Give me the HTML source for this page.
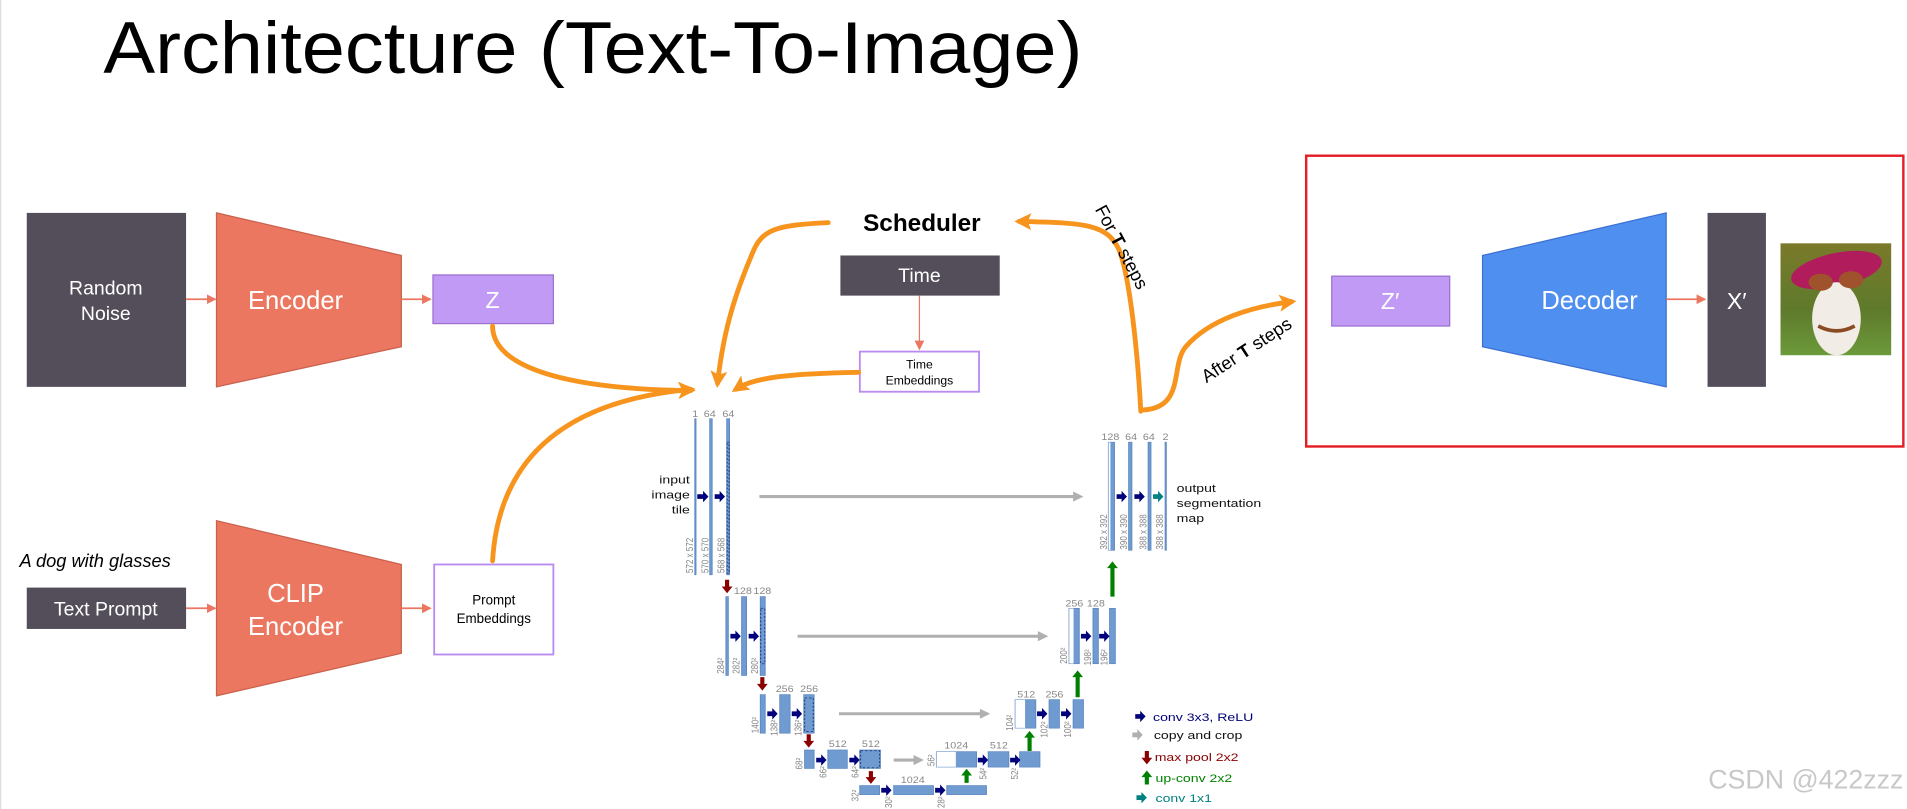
<!DOCTYPE html>
<html><head><meta charset="utf-8"><style>
html,body{margin:0;padding:0;background:#fff;width:1907px;height:809px;overflow:hidden}
svg{display:block}
</style></head><body>
<svg width="1907" height="809" viewBox="0 0 1568 665" preserveAspectRatio="none" xmlns="http://www.w3.org/2000/svg" font-family="Liberation Sans, sans-serif">
<defs>
<marker id="sa" markerWidth="8" markerHeight="8" refX="7" refY="4" orient="auto" markerUnits="userSpaceOnUse"><path d="M0,0L8,4L0,8z" fill="#ec7760"/></marker>
<marker id="oa" markerWidth="16" markerHeight="14" refX="10" refY="7" orient="auto" markerUnits="userSpaceOnUse"><path d="M0,0L14,7L0,14L3,7z" fill="#f7941d"/></marker>
<linearGradient id="bg" x1="0" y1="0" x2="0" y2="1"><stop offset="0" stop-color="#7a7a2a"/><stop offset="0.6" stop-color="#5f7a2c"/><stop offset="1" stop-color="#6b9a3a"/></linearGradient>
</defs>
<line x1="0.5" y1="0" x2="0.5" y2="665" stroke="#ddd"/>
<text x="85" y="60" font-size="60" textLength="805" lengthAdjust="spacingAndGlyphs">Architecture (Text-To-Image)</text>

<rect x="22" y="175" width="131" height="143" fill="#544e5a"/>
<text x="87" y="242" font-size="16" fill="#fff" text-anchor="middle">Random</text>
<text x="87" y="263" font-size="16" fill="#fff" text-anchor="middle">Noise</text>
<line x1="153" y1="246" x2="177" y2="246" stroke="#ec7760" stroke-width="1.5" marker-end="url(#sa)"/>
<polygon points="178,175 330,210 330,285 178,318" fill="#ec7760" stroke="#c8604c"/>
<text x="243" y="254" font-size="21" fill="#fff" text-anchor="middle">Encoder</text>
<line x1="330" y1="246" x2="354" y2="246" stroke="#ec7760" stroke-width="1.5" marker-end="url(#sa)"/>
<rect x="356" y="226" width="99" height="40" fill="#c09af5" stroke="#9a6fd0"/>
<text x="405" y="253" font-size="19" fill="#fff" text-anchor="middle">Z</text>

<text x="16" y="466" font-size="15" font-style="italic">A dog with glasses</text>
<rect x="22" y="483" width="131" height="34" fill="#544e5a"/>
<text x="87" y="506" font-size="16" fill="#fff" text-anchor="middle">Text Prompt</text>
<line x1="153" y1="500" x2="177" y2="500" stroke="#ec7760" stroke-width="1.5" marker-end="url(#sa)"/>
<polygon points="178,428 330,464 330,537 178,572" fill="#ec7760" stroke="#c8604c"/>
<text x="243" y="495" font-size="21" fill="#fff" text-anchor="middle">CLIP</text>
<text x="243" y="522" font-size="21" fill="#fff" text-anchor="middle">Encoder</text>
<line x1="330" y1="500" x2="354" y2="500" stroke="#ec7760" stroke-width="1.5" marker-end="url(#sa)"/>
<rect x="357" y="464" width="98" height="74" fill="#fff" stroke="#b98af0" stroke-width="1.5"/>
<text x="406" y="497" font-size="11" text-anchor="middle">Prompt</text>
<text x="406" y="512" font-size="11" text-anchor="middle">Embeddings</text>

<text x="758" y="190" font-size="20" font-weight="bold" text-anchor="middle">Scheduler</text>
<rect x="691" y="210" width="131" height="33" fill="#544e5a"/>
<text x="756" y="232" font-size="16" fill="#fff" text-anchor="middle">Time</text>
<line x1="756" y1="243" x2="756" y2="287" stroke="#ec7760" stroke-width="1" marker-end="url(#sa)"/>
<rect x="707" y="289" width="98" height="33" fill="#fff" stroke="#b98af0" stroke-width="1.5"/>
<text x="756" y="303" font-size="10" text-anchor="middle">Time</text>
<text x="756" y="316" font-size="10" text-anchor="middle">Embeddings</text>

<g fill="none" stroke="#f7941d" stroke-width="4" stroke-linecap="round">
<path d="M681,183 C640,185 628,188 620,205 C605,240 595,270 590,315" marker-end="url(#oa)"/>
<path d="M405,268 C405,300 460,320 568,321" marker-end="url(#oa)"/>
<path d="M405,461 C410,380 460,330 568,320" marker-end="url(#oa)"/>
<path d="M706,306 C650,307 620,310 605,320" marker-end="url(#oa)"/>
<path d="M938,338 C936,300 930,230 920,205 C910,185 895,183 838,182" marker-end="url(#oa)"/>
<path d="M940,337 C975,335 962,300 975,285 C995,262 1030,252 1062,248" marker-end="url(#oa)"/>
</g>
<text transform="translate(900,172) rotate(62)" font-size="15">For <tspan font-weight="bold">T</tspan> steps</text>
<text transform="translate(992,315) rotate(-33)" font-size="15">After <tspan font-weight="bold">T</tspan> steps</text>

<rect x="1074" y="128" width="491" height="239" fill="none" stroke="#e41e26" stroke-width="2"/>
<rect x="1095" y="227" width="97" height="41" fill="#c09af5" stroke="#9a6fd0"/>
<text x="1143" y="254" font-size="19" fill="#fff" text-anchor="middle">Z′</text>
<polygon points="1219,210 1370,175 1370,318 1219,285" fill="#4f8ff0" stroke="#3b6fd0"/>
<text x="1307" y="254" font-size="21" fill="#fff" text-anchor="middle">Decoder</text>
<line x1="1370" y1="246" x2="1402" y2="246" stroke="#ec7760" stroke-width="1.5" marker-end="url(#sa)"/>
<rect x="1404" y="175" width="48" height="143" fill="#544e5a"/>
<text x="1428" y="254" font-size="19" fill="#fff" text-anchor="middle">X′</text>
<rect x="1464" y="200" width="91" height="92" fill="url(#bg)"/>
<ellipse cx="1510" cy="222" rx="38" ry="14" fill="#b01c5c" transform="rotate(-12 1510 222)"/>
<ellipse cx="1510" cy="262" rx="20" ry="30" fill="#f2ece6"/>
<ellipse cx="1497" cy="232" rx="10" ry="7" fill="#a0522d"/>
<ellipse cx="1522" cy="230" rx="10" ry="7" fill="#a0522d"/>
<path d="M1495,268 Q1510,276 1525,268" stroke="#8a4a22" stroke-width="3" fill="none"/>

<text x="1565" y="648" font-size="22" fill="#c8c8c8" text-anchor="end">CSDN @422zzz</text>

<g transform="matrix(0.3407,0,0,0.2759,526.3,329)">
<g fill="none" stroke-width="9">
<line x1="288" y1="287" x2="1050" y2="287" stroke="#b0b0b0"/>
<line x1="380" y1="703" x2="965" y2="703" stroke="#b0b0b0"/>
<line x1="480" y1="934" x2="825" y2="934" stroke="#b0b0b0"/>
<line x1="612" y1="1072" x2="665" y2="1072" stroke="#b0b0b0"/>
</g>
<g fill="#b0b0b0">
<polygon points="1045,272 1070,287 1045,302"/><polygon points="960,688 985,703 960,718"/>
<polygon points="820,919 845,934 820,949"/><polygon points="660,1057 685,1072 660,1087"/>
</g>
<g fill="#6f9bd1" stroke="#5a86c0" stroke-width="2">
<rect x="132" y="55" width="3" height="465"/><rect x="168" y="55" width="6" height="465"/><rect x="209" y="55" width="7" height="465"/>
<rect x="207" y="585" width="6" height="235"/><rect x="245" y="585" width="12" height="235"/><rect x="290" y="585" width="12" height="235"/>
<rect x="290" y="877" width="12" height="115"/><rect x="337" y="877" width="25" height="115"/><rect x="395" y="877" width="25" height="115"/>
<rect x="397" y="1042" width="23" height="55"/><rect x="453" y="1042" width="47" height="55"/><rect x="530" y="1042" width="50" height="55"/>
<rect x="530" y="1148" width="48" height="27"/><rect x="612" y="1148" width="96" height="27"/><rect x="740" y="1148" width="96" height="27"/>
<rect x="763" y="1047" width="49" height="46"/><rect x="840" y="1047" width="50" height="46"/><rect x="916" y="1047" width="49" height="46"/>
<rect x="930" y="892" width="25" height="85"/><rect x="987" y="892" width="25" height="85"/><rect x="1045" y="892" width="25" height="85"/>
<rect x="1047" y="620" width="13" height="165"/><rect x="1093" y="620" width="13" height="165"/><rect x="1133" y="620" width="14" height="165"/>
<rect x="1136" y="125" width="9" height="322"/><rect x="1179" y="125" width="8" height="322"/><rect x="1226" y="125" width="7" height="322"/><rect x="1267" y="125" width="3" height="322"/>
</g>
<g fill="#fff" stroke="#7aa0d4" stroke-width="2">
<rect x="715" y="1047" width="48" height="46"/><rect x="905" y="892" width="25" height="85"/><rect x="1035" y="620" width="12" height="165"/><rect x="1130" y="125" width="6" height="322"/>
</g>
<g fill="none" stroke="#2c4a8a" stroke-width="3" stroke-dasharray="6,5">
<rect x="210" y="125" width="5" height="390"/><rect x="291" y="620" width="10" height="165"/><rect x="397" y="887" width="21" height="100"/><rect x="532" y="1044" width="46" height="51"/>
</g>
<g fill="#00007a">
<path d="M138,280h14v-10l13,17l-13,17v-10h-14z"/><path d="M180,280h12v-10l13,17l-13,17v-10h-12z"/>
<path d="M218,696h12v-10l13,17l-13,17v-10h-12z"/><path d="M262,696h12v-10l13,17l-13,17v-10h-12z"/>
<path d="M307,927h12v-10l13,17l-13,17v-10h-12z"/><path d="M366,927h12v-10l13,17l-13,17v-10h-12z"/>
<path d="M425,1065h12v-10l13,17l-13,17v-10h-12z"/><path d="M505,1065h12v-10l13,17l-13,17v-10h-12z"/>
<path d="M582,1155h12v-10l13,17l-13,17v-10h-12z"/><path d="M712,1155h12v-10l13,17l-13,17v-10h-12z"/>
<path d="M815,1065h12v-10l13,17l-13,17v-10h-12z"/><path d="M893,1065h12v-10l13,17l-13,17v-10h-12z"/>
<path d="M958,927h12v-10l13,17l-13,17v-10h-12z"/><path d="M1016,927h12v-10l13,17l-13,17v-10h-12z"/>
<path d="M1064,696h12v-10l13,17l-13,17v-10h-12z"/><path d="M1108,696h12v-10l13,17l-13,17v-10h-12z"/>
<path d="M1150,280h12v-10l13,17l-13,17v-10h-12z"/><path d="M1193,280h12v-10l13,17l-13,17v-10h-12z"/>
<path d="M1195,935h12v-10l13,17l-13,17v-10h-12z"/>
</g>
<g fill="#008080"><path d="M1238,280h12v-10l13,17l-13,17v-10h-12z"/><path d="M1198,1177h12v-10l13,17l-13,17v-10h-12z"/></g>
<path d="M1188,990h12v-10l13,17l-13,17v-10h-12z" fill="#b0b0b0"/>
<g fill="#8b0000">
<path d="M205,535h10v20h8l-13,20l-13,-20h8z"/><path d="M290,825h10v20h8l-13,20l-13,-20h8z"/>
<path d="M402,995h10v20h8l-13,20l-13,-20h8z"/><path d="M552,1105h10v18h8l-13,20l-13,-20h8z"/>
<path d="M1218,1045h10v20h8l-13,20l-13,-20h8z"/>
</g>
<g fill="#008000">
<path d="M783,1140h10v-22h8l-13,-20l-13,20h8z"/><path d="M935,1045h10v-40h8l-13,-20l-13,20h8z"/>
<path d="M1051,885h10v-60h8l-13,-20l-13,20h8z"/><path d="M1135,585h10v-85h8l-13,-20l-13,20h8z"/>
<path d="M1218,1145h10v-22h8l-13,-20l-13,20h8z"/>
</g>
<g font-size="26" fill="#888" text-anchor="middle">
<text x="133" y="50">1</text><text x="168" y="50">64</text><text x="213" y="50">64</text>
<text x="248" y="578">128</text><text x="295" y="578">128</text>
<text x="349" y="870">256</text><text x="408" y="870">256</text>
<text x="477" y="1033">512</text><text x="557" y="1033">512</text>
<text x="658" y="1141">1024</text><text x="763" y="1038">1024</text><text x="866" y="1038">512</text>
<text x="932" y="885">512</text><text x="1000" y="885">256</text>
<text x="1048" y="614">256</text><text x="1100" y="614">128</text>
<text x="1135" y="118">128</text><text x="1185" y="118">64</text><text x="1228" y="118">64</text><text x="1268" y="118">2</text>
</g>
<g font-size="24" fill="#888">
<text transform="translate(128,515) rotate(-90)">572 x 572</text>
<text transform="translate(165,515) rotate(-90)">570 x 570</text>
<text transform="translate(204,515) rotate(-90)">568 x 568</text>
<text transform="translate(202,815) rotate(-90)">284²</text>
<text transform="translate(240,815) rotate(-90)">282²</text>
<text transform="translate(285,815) rotate(-90)">280²</text>
<text transform="translate(286,992) rotate(-90)">140²</text>
<text transform="translate(332,1000) rotate(-90)">138²</text>
<text transform="translate(390,1000) rotate(-90)">136²</text>
<text transform="translate(392,1100) rotate(-90)">68²</text>
<text transform="translate(450,1125) rotate(-90)">66²</text>
<text transform="translate(527,1125) rotate(-90)">64²</text>
<text transform="translate(527,1195) rotate(-90)">32²</text>
<text transform="translate(608,1215) rotate(-90)">30²</text>
<text transform="translate(735,1215) rotate(-90)">28²</text>
<text transform="translate(710,1090) rotate(-90)">56²</text>
<text transform="translate(836,1130) rotate(-90)">54²</text>
<text transform="translate(912,1130) rotate(-90)">52²</text>
<text transform="translate(900,985) rotate(-90)">104²</text>
<text transform="translate(983,1005) rotate(-90)">102²</text>
<text transform="translate(1040,1005) rotate(-90)">100²</text>
<text transform="translate(1030,785) rotate(-90)">200²</text>
<text transform="translate(1088,790) rotate(-90)">198²</text>
<text transform="translate(1128,790) rotate(-90)">196²</text>
<text transform="translate(1127,445) rotate(-90)">392 x 392</text>
<text transform="translate(1175,445) rotate(-90)">390 x 390</text>
<text transform="translate(1222,445) rotate(-90)">388 x 388</text>
<text transform="translate(1262,445) rotate(-90)">388 x 388</text>
</g>
<g font-size="34" fill="#111">
<text x="120" y="248" text-anchor="end">input</text><text x="120" y="293" text-anchor="end">image</text><text x="120" y="338" text-anchor="end">tile</text>
<text x="1295" y="273">output</text><text x="1295" y="318">segmentation</text><text x="1295" y="363">map</text>
<text x="1238" y="955" fill="#00007a">conv 3x3, ReLU</text>
<text x="1240" y="1010">copy and crop</text>
<text x="1242" y="1075" fill="#8b0000">max pool 2x2</text>
<text x="1244" y="1137" fill="#008000">up-conv 2x2</text>
<text x="1244" y="1197" fill="#008080">conv 1x1</text>
</g>
</g>
</svg>
</body></html>
